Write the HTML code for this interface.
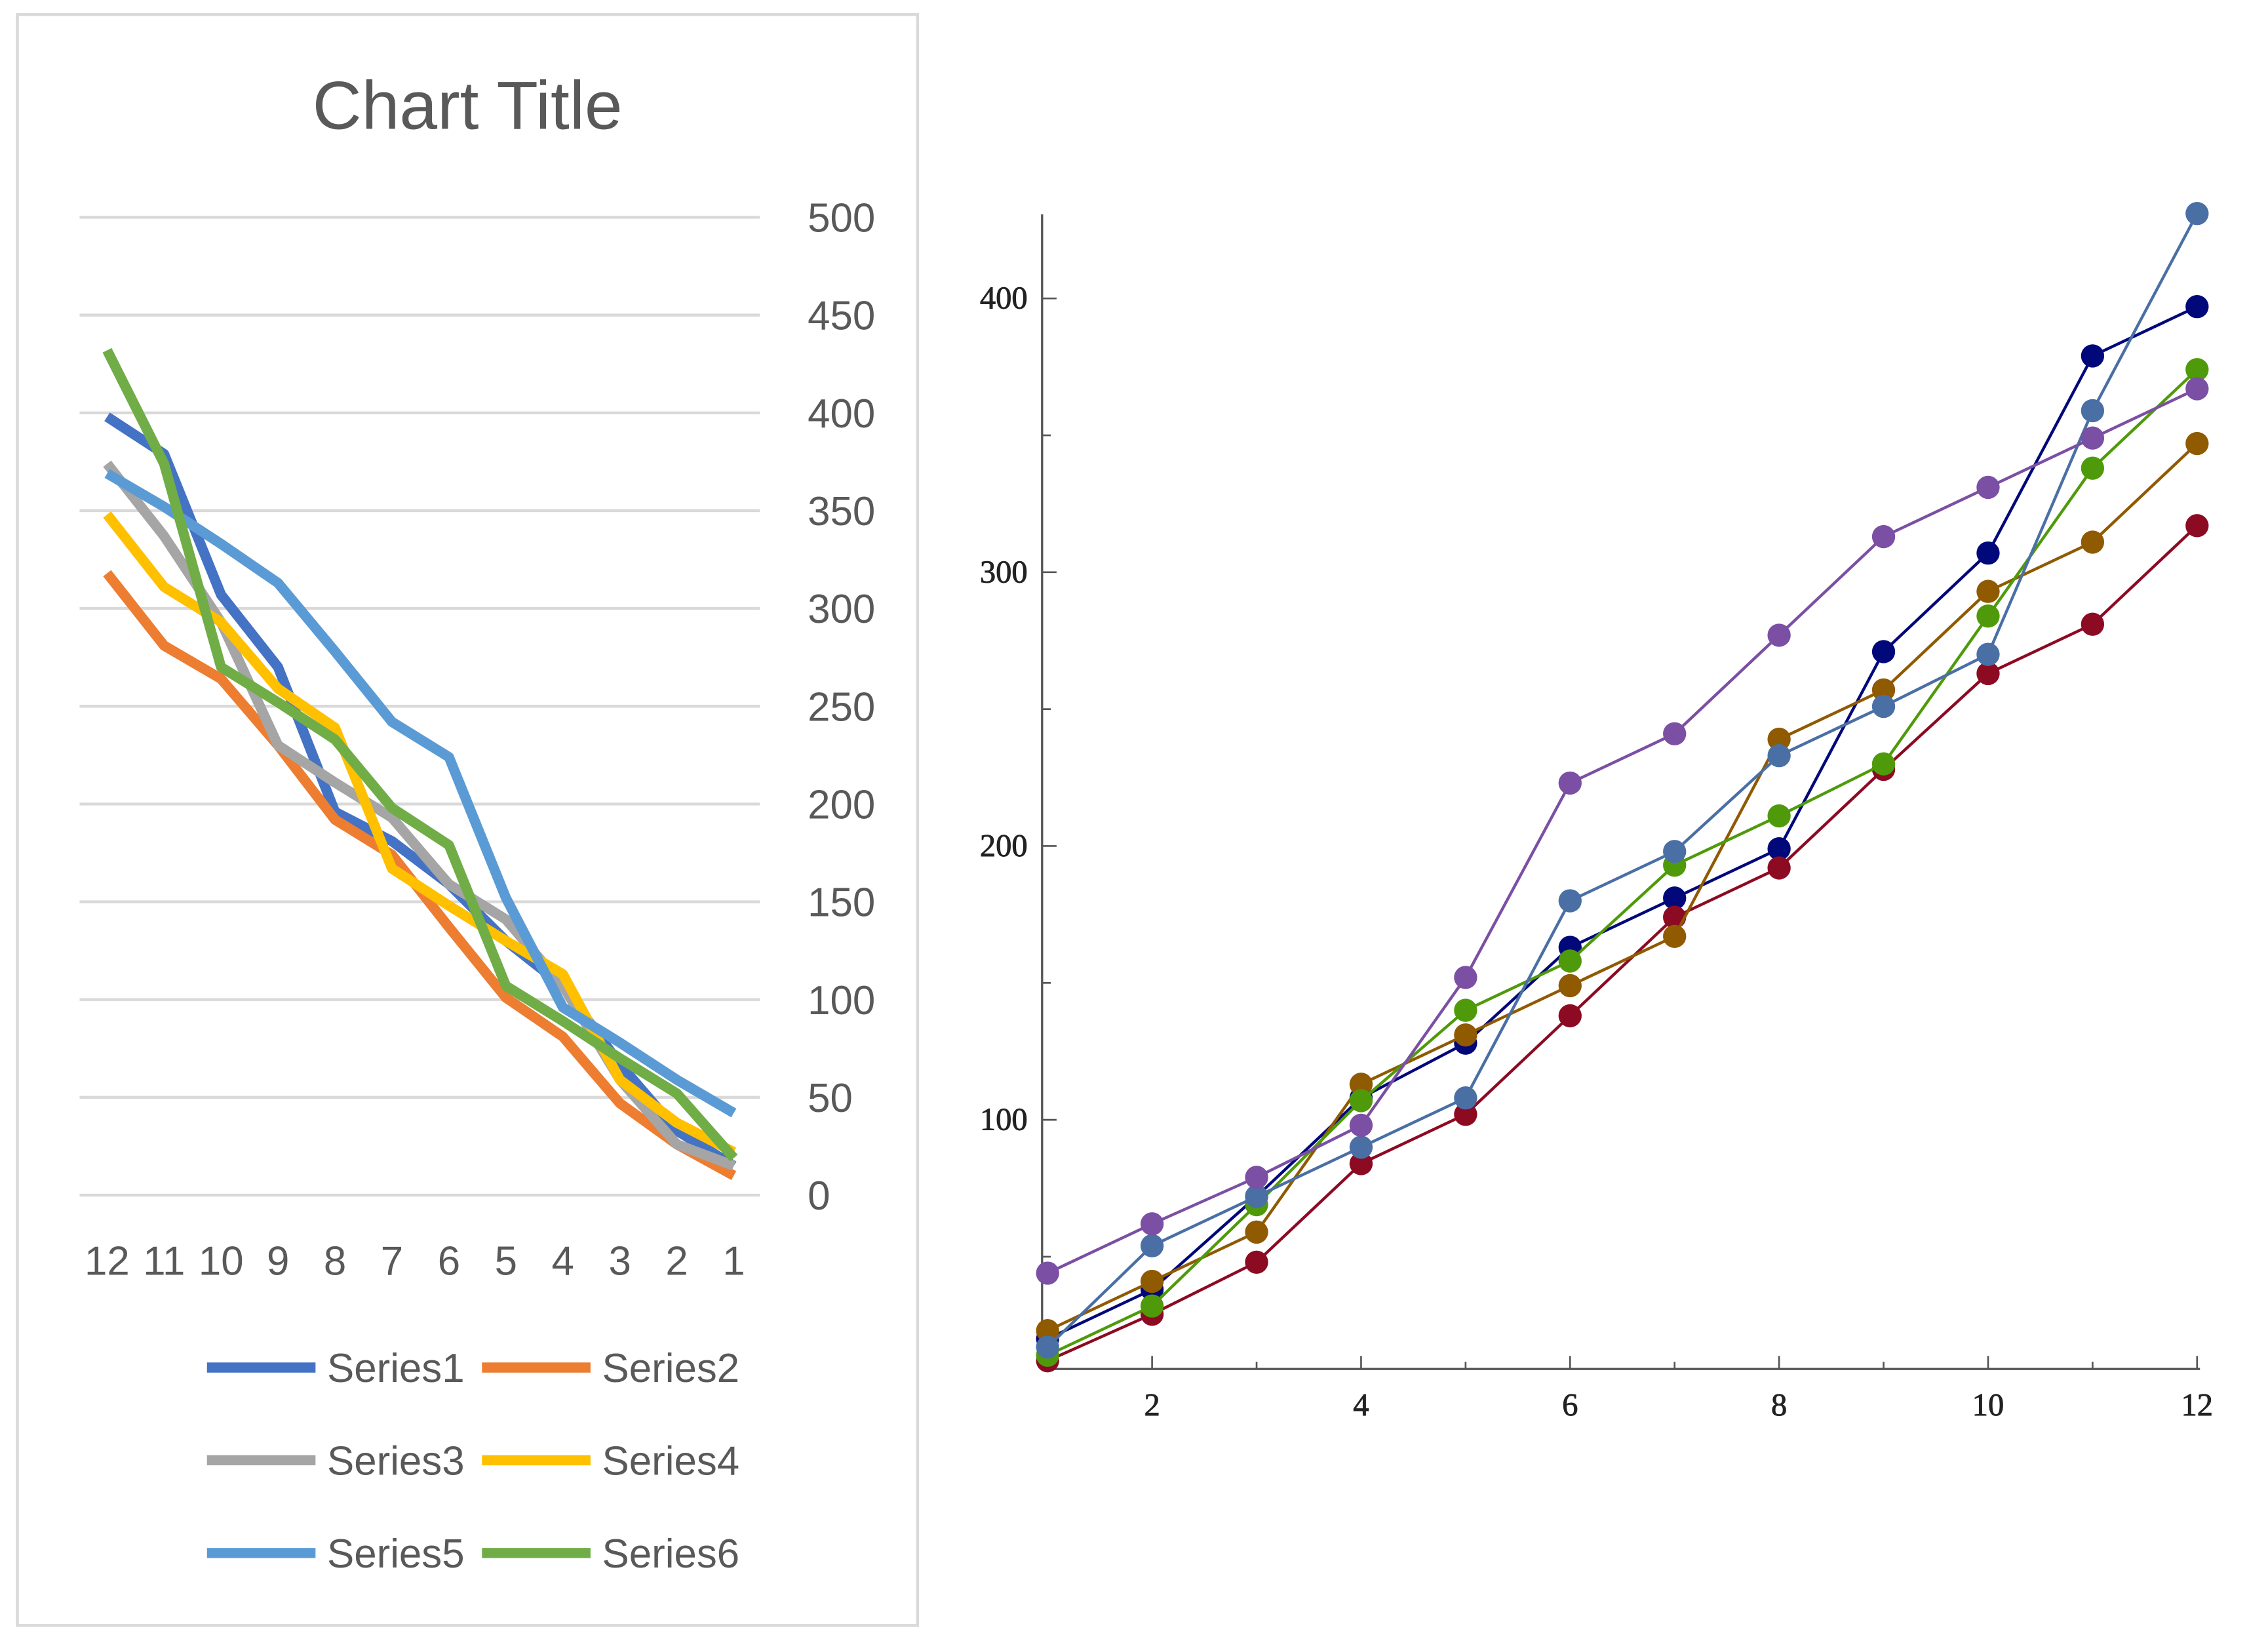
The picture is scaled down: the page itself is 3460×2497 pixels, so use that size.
<!DOCTYPE html>
<html><head><meta charset="utf-8">
<style>html,body{margin:0;padding:0;background:#fff}svg{display:block}</style>
</head><body>
<svg id="root" width="3460" height="2497" viewBox="0 0 1567 1130" preserveAspectRatio="none" xmlns="http://www.w3.org/2000/svg">
<rect x="0" y="0" width="1567" height="1130" fill="#fff"/>
<g id="left">
<rect x="12" y="10" width="622" height="1112" fill="#fff" stroke="#d9d9d9" stroke-width="2"/>
<text x="323" y="89" text-anchor="middle" font-family="Liberation Sans, sans-serif" font-size="47" fill="#595959">Chart Title</text>
</g>
<g id="right"></g>
</svg>
<script>
const NS='http://www.w3.org/2000/svg';
// ---- left chart data ----
const leftCats=['12','11','10','9','8','7','6','5','4','3','2','1'];
const leftTicks=[0,50,100,150,200,250,300,350,400,450,500];
const s1=[398,379,307,270,196,181,159,130,107,67,33,15];
const s2=[318,281,264,230,192,174,137,101,81,47,26,10];
const s3=[374,337,293,230,211,193,159,141,107,59,26,15];
const s4=[348,311,293,259,239,167,148,130,113,59,37,22];
const s5=[369,352,333,313,278,242,224,152,96,78,59,42];
const s6=[432,374,270,252,233,198,179,107,89,70,52,19];
const leftNames=['Series1','Series2','Series3','Series4','Series5','Series6'];
// ---- right chart data ----
const rightX=[1,2,3,4,5,6,7,8,9,10,11,12];
const rightYTicks=[100,200,300,400];
const rightXTicks=[2,4,6,8,10,12];
const r1=[20,38,72,108,128,163,181,199,271,307,379,397];
const r2=[12,29,48,84,102,138,174,192,228,263,281,317];
const r3=[23,41,59,113,131,149,167,239,257,293,311,347];
const r4=[14,32,69,107,140,158,193,211,230,284,338,374];
const r5=[17,54,72,90,108,180,198,233,251,270,359,431];
const r6=[44,62,79,98,152,223,241,277,313,331,349,367];

function el(tag,attrs,parent){const e=document.createElementNS(NS,tag);for(const k in attrs)e.setAttribute(k,attrs[k]);parent.appendChild(e);return e;}
const L=document.getElementById('left'), R=document.getElementById('right');
const lx=i=>74+i*(507-74)/11, ly=v=>825-v*1.35;
leftTicks.forEach(t=>{
  const g=el('line',{x1:55,x2:525,y1:ly(t),y2:ly(t),stroke:'#d9d9d9','stroke-width':2},L);
  
  
  const tx=el('text',{x:558,y:ly(t)+10,'font-family':'Liberation Sans, sans-serif','font-size':28,fill:'#595959'},L);
  tx.textContent=t;
  
  
});
leftCats.forEach((c,i)=>{
  const tx=el('text',{x:lx(i),y:880,'text-anchor':'middle','font-family':'Liberation Sans, sans-serif','font-size':28,fill:'#595959'},L);
  tx.textContent=c;
  
  
});
const lSeries=[s1,s2,s3,s4,s5,s6];
const lCols=['#4472C4','#ED7D31','#A5A5A5','#FFC000','#5B9BD5','#70AD47'];
lSeries.forEach((s,k)=>{
  const p=el('polyline',{points:s.map((v,i)=>lx(i)+','+ly(v)).join(' '),fill:'none',stroke:lCols[k],'stroke-width':7,'stroke-linejoin':'round'},L);
  
  
});
leftNames.forEach((n,k)=>{
  const col=k%2, row=Math.floor(k/2);
  const x0=col?333:143, y=944+row*64;
  const g=el('g',{},L);
  
  
  el('line',{x1:x0,x2:x0+75,y1:y,y2:y,stroke:lCols[k],'stroke-width':7},g);
  const t=el('text',{x:x0+83,y:y+10,'font-family':'Liberation Sans, sans-serif','font-size':28,fill:'#595959'},g);
  t.textContent=n;
});
const rx=v=>723.8+(v-1)*72.2, ry=v=>773-(v-100)*1.89;
const ax=el('line',{x1:720,x2:720,y1:148,y2:945,stroke:'#555','stroke-width':1.5},R);


const axx=el('line',{x1:720,x2:1520,y1:945,y2:945,stroke:'#555','stroke-width':1.5},R);


[50,100,150,200,250,300,350,400].forEach(t=>{
  el('line',{x1:720,x2:t%100?726:730,y1:ry(t),y2:ry(t),stroke:'#555','stroke-width':1.2},R);
});
rightYTicks.forEach(t=>{
  const tx=el('text',{x:710,y:ry(t)+7,'text-anchor':'end','font-family':'Liberation Serif, serif','font-size':22,fill:'#222',stroke:'#222','stroke-width':0.4},R);
  tx.textContent=t;
  
  
});
rightX.forEach(t=>{el('line',{x1:rx(t),x2:rx(t),y1:945,y2:t%2?940:936,stroke:'#555','stroke-width':1.2},R);});
rightXTicks.forEach(t=>{
  const tx=el('text',{x:rx(t),y:977,'text-anchor':'middle','font-family':'Liberation Serif, serif','font-size':22,fill:'#222',stroke:'#222','stroke-width':0.4},R);
  tx.textContent=t;
  
  
});
const rSeries=[r1,r2,r3,r4,r5,r6];
const rCols=['#00087a','#8c0a22','#8f5a00','#4f9a0a','#4a6fa5','#7b4fa3'];
rSeries.forEach((s,k)=>{
  const g=el('g',{},R);
  
  
  el('polyline',{points:s.map((v,i)=>rx(rightX[i])+','+ry(v)).join(' '),fill:'none',stroke:rCols[k],'stroke-width':2},g);
  s.forEach((v,i)=>{
    const c=el('circle',{cx:rx(rightX[i]),cy:ry(v),r:8,fill:rCols[k]},g);
    
    
  });
});
</script>
</body></html>
